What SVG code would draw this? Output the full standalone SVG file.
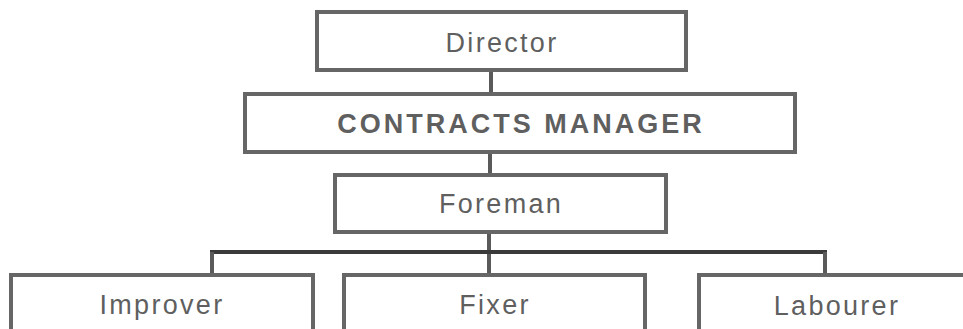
<svg xmlns="http://www.w3.org/2000/svg" width="963" height="329" viewBox="0 0 963 329">
<style>
.box{fill:#fff;stroke:#666;stroke-width:4}
.lbl{font-family:"Liberation Sans",Arial,sans-serif;font-size:27px;fill:#5f5f5f;text-anchor:middle;letter-spacing:2.3px}
.bold{font-weight:bold;letter-spacing:3px}
.ln{stroke:#5a5a5a;stroke-width:4;fill:none}
.bus{stroke:#3a3a3a;stroke-width:4;fill:none}
</style>
<rect width="963" height="329" fill="#fff"/>
<g id="connectors">
<line class="ln" x1="491" y1="70" x2="491" y2="94"/>
<line class="ln" x1="490" y1="152" x2="490" y2="175"/>
<line class="ln" x1="489" y1="232" x2="489" y2="275"/>
<line class="bus" x1="210" y1="252" x2="827" y2="252"/>
<line class="ln" x1="212" y1="252" x2="212" y2="275"/>
<line class="ln" x1="825" y1="252" x2="825" y2="275"/>
</g>
<g id="director">
<rect class="box" x="317" y="12" width="369" height="58"/>
<text class="lbl" x="502" y="52">Director</text>
</g>
<g id="contracts-manager">
<rect class="box" x="245" y="94" width="550" height="58"/>
<text class="lbl bold" x="521" y="133">CONTRACTS MANAGER</text>
</g>
<g id="foreman">
<rect class="box" x="335" y="175" width="331" height="57"/>
<text class="lbl" x="501" y="213">Foreman</text>
</g>
<g id="improver">
<rect class="box" x="11" y="275" width="302" height="80"/>
<text class="lbl" x="162" y="314">Improver</text>
</g>
<g id="fixer">
<rect class="box" x="344" y="275" width="301" height="80"/>
<text class="lbl" x="495" y="314">Fixer</text>
</g>
<g id="labourer">
<rect class="box" x="699" y="275" width="274" height="80"/>
<text class="lbl" x="837" y="315">Labourer</text>
</g>
</svg>
